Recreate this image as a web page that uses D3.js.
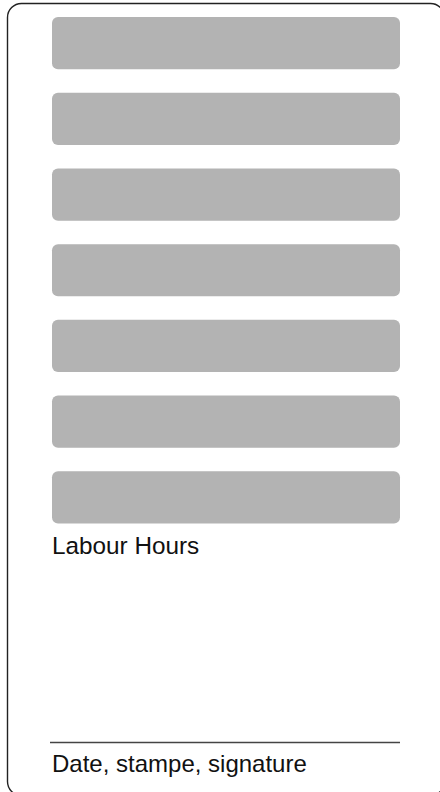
<!DOCTYPE html>
<html>
<head>
<meta charset="utf-8">
<script src="https://cdn.jsdelivr.net/npm/d3@7"></script>
<style>
html,body{margin:0;padding:0;background:#fff;}
svg{display:block;}
</style>
</head>
<body>
<svg id="chart" width="440" height="792"></svg>
<script>
// Data
const fields = ["Field 1", "Field 2", "Field 3", "Field 4", "Field 5", "Field 6", "Field 7"];
const fieldValues = [1, 1, 1, 1, 1, 1, 1];
const labelTexts = ["Labour Hours", "Date, stampe, signature"];

const svg = d3.select("#chart");

// outer frame
svg.append("rect")
  .attr("x", 7.5).attr("y", 3.5)
  .attr("width", 437).attr("height", 792)
  .attr("rx", 14).attr("ry", 14)
  .attr("fill", "none")
  .attr("stroke", "#222")
  .attr("stroke-width", 1.4);

const y = d3.scaleBand()
  .domain(fields)
  .range([17, 523.5])
  .paddingInner(0.31)
  .paddingOuter(0);

const x = d3.scaleLinear().domain([0, 1]).range([52, 400]);

svg.append("g").selectAll("rect")
  .data(fields.map((f, i) => ({f, v: fieldValues[i]})))
  .join("rect")
  .attr("x", x(0))
  .attr("y", d => y(d.f))
  .attr("width", d => x(d.v) - x(0))
  .attr("height", y.bandwidth())
  .attr("rx", 6).attr("ry", 6)
  .attr("fill", "#b3b3b3");

svg.append("text")
  .attr("x", 52).attr("y", 554)
  .attr("font-family", "Liberation Sans, Arial, sans-serif")
  .attr("font-size", 24.3)
  .attr("fill", "#111")
  .text(labelTexts[0]);

svg.append("line")
  .attr("x1", 50).attr("x2", 400)
  .attr("y1", 742.5).attr("y2", 742.5)
  .attr("stroke", "#444").attr("stroke-width", 1.5);

svg.append("text")
  .attr("x", 52).attr("y", 772)
  .attr("font-family", "Liberation Sans, Arial, sans-serif")
  .attr("font-size", 24)
  .attr("fill", "#111")
  .text(labelTexts[1]);
</script>
</body>
</html>
